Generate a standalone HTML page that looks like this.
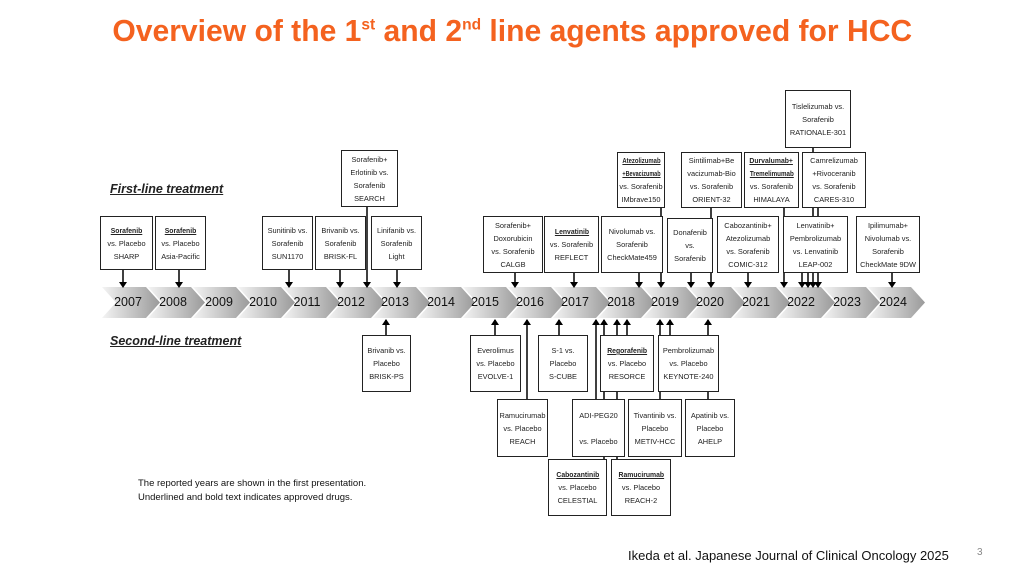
<!DOCTYPE html>
<html><head><meta charset="utf-8"><style>
body{margin:0;width:1024px;height:576px;background:#fff;position:relative;overflow:hidden;font-family:"Liberation Sans",sans-serif}
.t{position:absolute;left:0;top:13px;width:1024px;text-align:center;color:#f4621f;font-weight:bold;font-size:31px;}
.t span{display:inline-block;transform:scaleX(0.97);white-space:nowrap}
.b{position:absolute;border:1px solid #222;background:#fff;box-sizing:border-box;display:flex;flex-direction:column;justify-content:center;align-items:center;text-align:center;font-size:7.4px;line-height:13px;color:#222;z-index:2;white-space:nowrap}
.b u{font-weight:bold;display:inline-block;transform:scaleX(0.9);font-size:7.6px}
.h{position:absolute;font-weight:bold;font-style:italic;text-decoration:underline;font-size:12.5px;color:#222}
svg{position:absolute;left:0;top:0;z-index:1}
.y{position:absolute;top:295px;font-size:12.5px;color:#111;width:40px;text-align:center;z-index:3}
</style></head><body>
<div class="t"><span>Overview of the 1<sup style="font-size:16px">st</sup> and 2<sup style="font-size:16px">nd</sup> line agents approved for HCC</span></div>
<div class="h" style="left:110px;top:182px">First-line treatment</div>
<div class="h" style="left:110px;top:334px">Second-line treatment</div>
<svg width="1024" height="576">
<defs><linearGradient id="g" x1="0" x2="1"><stop offset="0" stop-color="#f4f4f4"/><stop offset="1" stop-color="#9a9a9a"/></linearGradient></defs>
<g fill="url(#g)">
<polygon points="102,287 146,287 160,302.5 146,318 102,318 116,302.5"/>
<polygon points="148,287 191,287 205,302.5 191,318 148,318 162,302.5"/>
<polygon points="193,287 236,287 250,302.5 236,318 193,318 207,302.5"/>
<polygon points="238,287 281,287 295,302.5 281,318 238,318 252,302.5"/>
<polygon points="283,287 326,287 340,302.5 326,318 283,318 297,302.5"/>
<polygon points="328,287 371,287 385,302.5 371,318 328,318 342,302.5"/>
<polygon points="373,287 416,287 430,302.5 416,318 373,318 387,302.5"/>
<polygon points="418,287 461,287 475,302.5 461,318 418,318 432,302.5"/>
<polygon points="463,287 506,287 520,302.5 506,318 463,318 477,302.5"/>
<polygon points="508,287 551,287 565,302.5 551,318 508,318 522,302.5"/>
<polygon points="553,287 596,287 610,302.5 596,318 553,318 567,302.5"/>
<polygon points="598,287 641,287 655,302.5 641,318 598,318 612,302.5"/>
<polygon points="643,287 686,287 700,302.5 686,318 643,318 657,302.5"/>
<polygon points="688,287 731,287 745,302.5 731,318 688,318 702,302.5"/>
<polygon points="733,287 776,287 790,302.5 776,318 733,318 747,302.5"/>
<polygon points="778,287 821,287 835,302.5 821,318 778,318 792,302.5"/>
<polygon points="823,287 866,287 880,302.5 866,318 823,318 837,302.5"/>
<polygon points="868,287 911,287 925,302.5 911,318 868,318 882,302.5"/>
</g>
<g stroke="#000" stroke-width="1.5">
<path d="M123,270V286 M179,270V286 M289,270V286 M340,270V286 M367,207V286 M397,270V286 M515,272V286 M574,272V286 M639,272V286 M661,208V286 M691,272V286 M711,208V286 M748,272V286 M784,208V286 M802,272V286 M808,272V286 M813,148V286 M818,208V286 M892,272V286"/>
<path d="M386,335V320 M495,335V320 M527,399V320 M559,335V320 M596,399V320 M604,459V320 M617,459V320 M627,335V320 M660,399V320 M670,335V320 M708,399V320"/>
</g>
<g fill="#000">
<path d="M119,282h8l-4,6z M175,282h8l-4,6z M285,282h8l-4,6z M336,282h8l-4,6z M363,282h8l-4,6z M393,282h8l-4,6z M511,282h8l-4,6z M570,282h8l-4,6z M635,282h8l-4,6z M657,282h8l-4,6z M687,282h8l-4,6z M707,282h8l-4,6z M744,282h8l-4,6z M780,282h8l-4,6z M798,282h8l-4,6z M804,282h8l-4,6z M809,282h8l-4,6z M814,282h8l-4,6z M888,282h8l-4,6z"/>
<path d="M382,325h8l-4,-6z M491,325h8l-4,-6z M523,325h8l-4,-6z M555,325h8l-4,-6z M592,325h8l-4,-6z M600,325h8l-4,-6z M613,325h8l-4,-6z M623,325h8l-4,-6z M656,325h8l-4,-6z M666,325h8l-4,-6z M704,325h8l-4,-6z"/>
</g>
</svg>
<div class="y" style="left:108px">2007</div><div class="y" style="left:153px">2008</div><div class="y" style="left:199px">2009</div><div class="y" style="left:243px">2010</div><div class="y" style="left:287px">2011</div><div class="y" style="left:331px">2012</div><div class="y" style="left:375px">2013</div><div class="y" style="left:421px">2014</div><div class="y" style="left:465px">2015</div><div class="y" style="left:510px">2016</div><div class="y" style="left:555px">2017</div><div class="y" style="left:601px">2018</div><div class="y" style="left:645px">2019</div><div class="y" style="left:690px">2020</div><div class="y" style="left:736px">2021</div><div class="y" style="left:781px">2022</div><div class="y" style="left:827px">2023</div><div class="y" style="left:873px">2024</div>

<div class="b" style="left:100px;top:216px;width:53px;height:54px"><u>Sorafenib</u>vs. Placebo<br>SHARP</div>
<div class="b" style="left:155px;top:216px;width:51px;height:54px"><u>Sorafenib</u>vs. Placebo<br>Asia-Pacific</div>
<div class="b" style="left:262px;top:216px;width:51px;height:54px">Sunitinib vs.<br>Sorafenib<br>SUN1170</div>
<div class="b" style="left:315px;top:216px;width:51px;height:54px">Brivanib vs.<br>Sorafenib<br>BRISK-FL</div>
<div class="b" style="left:341px;top:150px;width:57px;height:57px">Sorafenib+<br>Erlotinib vs.<br>Sorafenib<br>SEARCH</div>
<div class="b" style="left:371px;top:216px;width:51px;height:54px">Linifanib vs.<br>Sorafenib<br>Light</div>
<div class="b" style="left:483px;top:216px;width:60px;height:57px">Sorafenib+<br>Doxorubicin<br>vs. Sorafenib<br>CALGB</div>
<div class="b" style="left:544px;top:216px;width:55px;height:57px"><u>Lenvatinib</u>vs. Sorafenib<br>REFLECT</div>
<div class="b" style="left:601px;top:216px;width:62px;height:57px">Nivolumab vs.<br>Sorafenib<br>CheckMate459</div>
<div class="b" style="left:617px;top:152px;width:48px;height:56px"><u style="transform:scaleX(0.78)">Atezolizumab</u><u style="transform:scaleX(0.72)">+Bevacizumab</u>vs. Sorafenib<br>IMbrave150</div>
<div class="b" style="left:667px;top:218px;width:46px;height:55px">Donafenib<br>vs.<br>Sorafenib</div>
<div class="b" style="left:681px;top:152px;width:61px;height:56px">Sintilimab+Be<br>vacizumab-Bio<br>vs. Sorafenib<br>ORIENT-32</div>
<div class="b" style="left:717px;top:216px;width:62px;height:57px">Cabozantinib+<br>Atezolizumab<br>vs. Sorafenib<br>COMIC-312</div>
<div class="b" style="left:744px;top:152px;width:55px;height:56px"><u>Durvalumab+</u><u style="transform:scaleX(0.82)">Tremelimumab</u>vs. Sorafenib<br>HIMALAYA</div>
<div class="b" style="left:785px;top:90px;width:66px;height:58px">Tislelizumab vs.<br>Sorafenib<br>RATIONALE-301</div>
<div class="b" style="left:802px;top:152px;width:64px;height:56px">Camrelizumab<br>+Rivoceranib<br>vs. Sorafenib<br>CARES-310</div>
<div class="b" style="left:783px;top:216px;width:65px;height:57px">Lenvatinib+<br>Pembrolizumab<br>vs. Lenvatinib<br>LEAP-002</div>
<div class="b" style="left:856px;top:216px;width:64px;height:57px">Ipilimumab+<br>Nivolumab vs.<br>Sorafenib<br>CheckMate 9DW</div>

<div class="b" style="left:362px;top:335px;width:49px;height:57px">Brivanib vs.<br>Placebo<br>BRISK-PS</div>
<div class="b" style="left:470px;top:335px;width:51px;height:57px">Everolimus<br>vs. Placebo<br>EVOLVE-1</div>
<div class="b" style="left:538px;top:335px;width:50px;height:57px">S-1 vs.<br>Placebo<br>S-CUBE</div>
<div class="b" style="left:600px;top:335px;width:54px;height:57px"><u>Regorafenib</u>vs. Placebo<br>RESORCE</div>
<div class="b" style="left:658px;top:335px;width:61px;height:57px">Pembrolizumab<br>vs. Placebo<br>KEYNOTE-240</div>
<div class="b" style="left:497px;top:399px;width:51px;height:58px">Ramucirumab<br>vs. Placebo<br>REACH</div>
<div class="b" style="left:572px;top:399px;width:53px;height:58px">ADI-PEG20<br><br>vs. Placebo</div>
<div class="b" style="left:628px;top:399px;width:54px;height:58px">Tivantinib vs.<br>Placebo<br>METIV-HCC</div>
<div class="b" style="left:685px;top:399px;width:50px;height:58px">Apatinib vs.<br>Placebo<br>AHELP</div>
<div class="b" style="left:548px;top:459px;width:59px;height:57px"><u>Cabozantinib</u>vs. Placebo<br>CELESTIAL</div>
<div class="b" style="left:611px;top:459px;width:60px;height:57px"><u>Ramucirumab</u>vs. Placebo<br>REACH-2</div>

<div style="position:absolute;left:138px;top:477px;font-size:9.5px;line-height:14px;color:#111">The reported years are shown in the first presentation.<br>Underlined and bold text indicates approved drugs.</div>
<div style="position:absolute;left:628px;top:548px;font-size:13px;color:#111">Ikeda et al. Japanese Journal of Clinical Oncology 2025</div>
<div style="position:absolute;left:977px;top:547px;font-size:10px;color:#888">3</div>
</body></html>
